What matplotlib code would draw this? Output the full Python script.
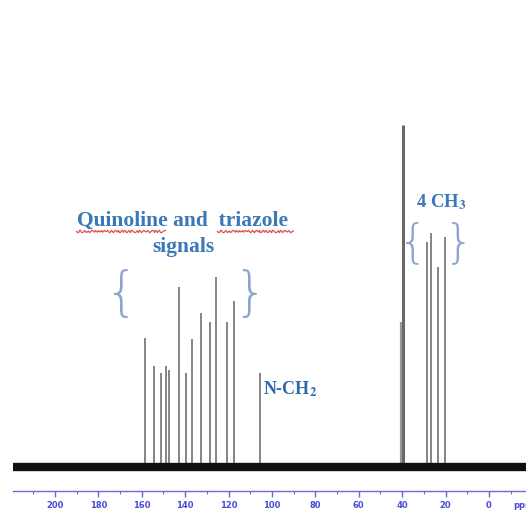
import matplotlib
matplotlib.use("Agg")
import matplotlib.pyplot as plt
import numpy as np

# --- data (13C NMR, ppm / relative intensity) ---
aromatic_ppm = [158.5, 154.4, 151.0, 148.8, 147.3, 142.7, 139.6, 137.0,
                132.7, 128.6, 125.8, 120.6, 117.4]
aromatic_int = [129, 101, 94, 101, 97, 180, 94, 128, 154, 145, 190, 145, 166]
nch2_ppm = [105.5]
nch2_int = [94]
dmso_ppm = [40.5, 39.4]
dmso_int = [145, 342]
ch3_ppm = [28.4, 26.7, 23.6, 20.1]
ch3_int = [225, 234, 200, 230]
tick_vals = [200, 180, 160, 140, 120, 100, 80, 60, 40, 20, 0]
spec_start, spec_end = 219.5, -17.5

W, H = 526, 513
fig = plt.figure(figsize=(W / 100, H / 100), dpi=100)
ax = fig.add_axes([0, (H - 491) / H, 1, 491 / H])
ax.set_xlim(225.3, -17.05)
ax.set_ylim(-24, 467)

peak_col = "#858585"
ax.plot([spec_start, spec_end], [0, 0], color="#111111", lw=6.0,
        solid_capstyle="butt", zorder=3)
ax.vlines(aromatic_ppm, 0, aromatic_int, color=peak_col, lw=1.4, zorder=2)
ax.vlines(nch2_ppm, 0, nch2_int, color=peak_col, lw=1.4, zorder=2)
ax.vlines(dmso_ppm, 0, dmso_int, color=["#9a9a9a", "#6a6a6a"], lw=[1.6, 2.2], zorder=2)
ax.vlines(ch3_ppm, 0, ch3_int, color=peak_col, lw=1.4, zorder=2)

# axis styling
axis_col = "#6b6bd6"
for s in ["top", "left", "right"]:
    ax.spines[s].set_visible(False)
ax.spines["bottom"].set_color(axis_col)
ax.spines["bottom"].set_linewidth(1.0)
ax.spines["bottom"].set_bounds(219.4, -17.05)
ax.set_yticks([])
ax.set_xticks(tick_vals)
ax.set_xticklabels([str(v) for v in tick_vals])
ax.set_xticks(np.arange(210, -15, -10), minor=True)
ax.tick_params(axis="x", which="major", direction="out", length=4, width=1,
               color=axis_col, labelcolor="#4a4ad8", labelsize=6, pad=3)
ax.tick_params(axis="x", which="minor", direction="out", length=2, width=0.8,
               color=axis_col)
for lab in ax.get_xticklabels():
    lab.set_fontweight("bold")
ax.text(-11.0, -38, "ppm", color="#4a4ad8", fontsize=6, fontweight="bold",
        ha="left", va="center", clip_on=False)
ax.patch.set_visible(False)

plt.rcParams["mathtext.fontset"] = "stix"
txt_col = "#3a78b8"
serif = "Liberation Serif"
ax.text(141, 241, "Quinoline and  triazole", fontsize=15.5, fontweight="bold",
        family=serif, color=txt_col, ha="center", va="baseline")
ax.text(141, 215, "signals", fontsize=15.5, fontweight="bold",
        family=serif, color=txt_col, ha="center", va="baseline")
# red wavy spelling underlines
for x0, x1 in [(190.5, 149.5), (125.5, 90.5)]:
    ln, = ax.plot([x0, x1], [236, 236], color="#e05050", lw=0.9)
    ln.set_sketch_params(scale=1.2, length=4, randomness=2)

brace_col = "#8aa6cc"
ax.text(169.6, 172, "{", fontsize=38, family="DejaVu Sans", fontweight="light",
        color=brace_col, ha="center", va="center")
ax.text(110.1, 172, "}", fontsize=38, family="DejaVu Sans", fontweight="light",
        color=brace_col, ha="center", va="center")

ax.text(104.3, 72, r"N-CH$_\mathbf{2}$", fontsize=13, fontweight="bold",
        family=serif, color="#2f6aa8", ha="left", va="baseline")
ax.text(22.0, 260, r"4 CH$_\mathbf{3}$", fontsize=13.5, fontweight="bold",
        family=serif, color=txt_col, ha="center", va="baseline")
ax.text(35.0, 224, "{", fontsize=34, family="DejaVu Sans", fontweight="light",
        color=brace_col, ha="center", va="center")
ax.text(13.8, 224, "}", fontsize=34, family="DejaVu Sans", fontweight="light",
        color=brace_col, ha="center", va="center")

fig.savefig("out.png", dpi=100, facecolor="white")
